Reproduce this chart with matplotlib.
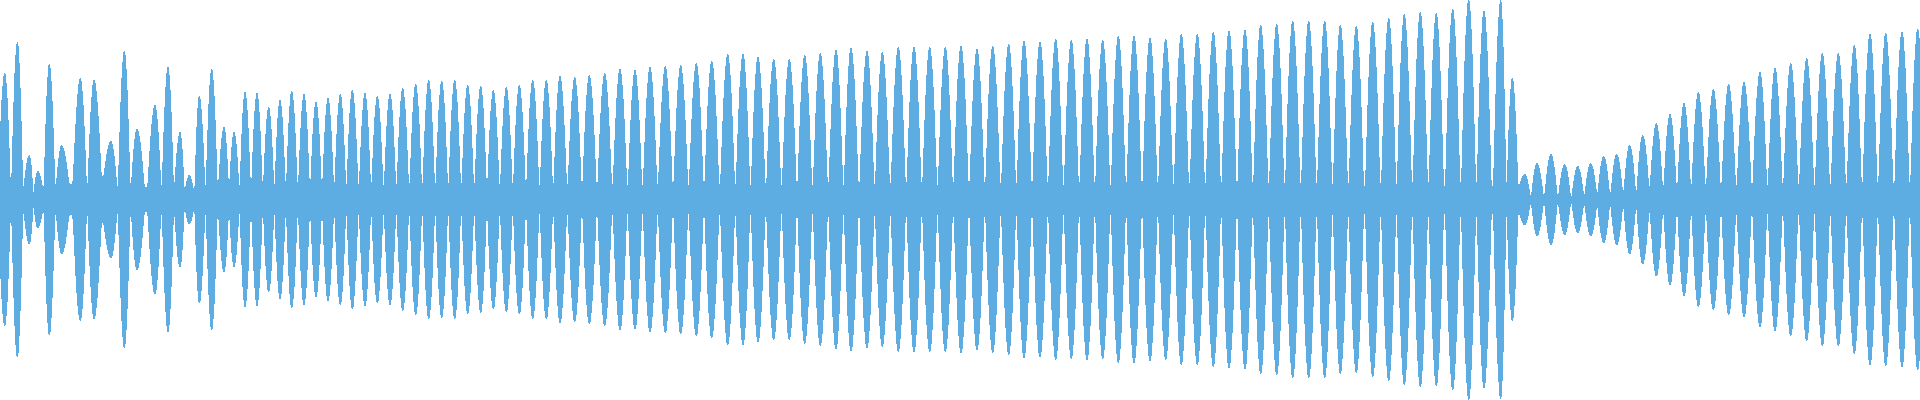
import numpy as np
import matplotlib
matplotlib.use("Agg")
import matplotlib.pyplot as plt

# lobe centres and peak heights of the envelope
peak_x = [4.7, 17.3, 29.3, 37.7, 49.3, 61.7, 80.3, 94, 111, 124.3, 137, 155, 168, 180, 189.3, 199.3,
          211.7, 224, 234, 245, 257, 268.7, 280, 291.7, 304, 316, 328, 340.3, 352.3, 365, 377.3, 390,
          402.7, 415.7, 428.7, 441.7, 454.7, 467.7,
          480.7, 493.3, 506.3, 519.3, 532.7, 546.3, 560, 574.7, 589.3, 604.7, 620, 635, 650, 665.3,
          680.7, 696.3, 711.7, 727.7, 743, 758, 773.7, 789.3, 804.7, 820.3, 836, 851, 867, 882.3,
          898.3, 914, 929.7, 945.3,
          961, 977, 992.7, 1008.7, 1024, 1040, 1055.7, 1071.3, 1087, 1102.7, 1118.3, 1134, 1150,
          1165.7, 1181.3, 1197.3, 1213.3, 1229, 1245, 1260.7, 1276.7, 1292.7, 1308.7, 1324.7, 1340.3,
          1356.3, 1372.7, 1388.7, 1404.3, 1420.3, 1436.3,
          1452.7, 1468.7, 1484, 1500.7, 1512.3, 1524.7, 1537, 1551, 1564.7, 1577.7, 1590.7, 1603.7,
          1616.7, 1629.7, 1642.7, 1656.3, 1670, 1684, 1698.3, 1713.3, 1728.7, 1744, 1760, 1775,
          1790.7, 1806.7, 1822.3, 1838.3, 1854.3, 1870, 1885.7, 1902, 1917.7]
peak_amp = [126, 157, 44, 28, 135, 54, 121, 119, 58, 148, 70, 94, 132, 67, 24, 103,
            130, 72, 67, 107, 106, 92, 99, 108, 105, 97, 101, 105, 109, 106, 103, 105,
            111, 115, 119, 118, 119, 114,
            113, 109, 112, 114, 119, 119, 123, 122, 124, 126, 130, 129, 132, 133,
            134, 136, 138, 145, 145, 142, 140, 140, 144, 146, 149, 151, 148, 147,
            152, 152, 152, 152,
            153, 150, 153, 155, 158, 157, 160, 159, 160, 159, 163, 163, 161,
            160, 165, 165, 167, 168, 169, 174, 175, 178, 178, 178, 174,
            173, 177, 181, 185, 187, 186,
            190, 200, 188, 199, 121, 25, 36, 45, 35, 33, 36, 43,
            45, 54, 64, 76, 85, 96, 107, 110, 115, 117, 127, 131,
            136, 141, 146, 146, 154, 165, 166, 167, 170]

# height of the band between two lobes, where it differs from the usual one
notch_x = [33, 43, 71, 102, 146, 185, 194, 1518, 1531, 1544, 1558, 1571, 1584, 1597, 1610, 1623, 1636]
notch_amp = [6, 9, 15, 23, 12, 8, 7, 12, 3, 3, 3, 2, 4, 6, 5, 7, 7]
usual_notch = 11

# shape of one lobe: share of half the lobe spacing, share of lobe height
lobe_off = [0, 0.06, 0.125, 0.25, 0.375, 0.5, 0.625, 0.75, 0.875, 1.0]
lobe_rise = [1.0, 0.99, 0.97, 0.887, 0.78, 0.63, 0.45, 0.25, 0.05, 0.0]
max_half_width = 8

notches = np.full(len(peak_x) - 1, usual_notch, dtype=float)
for nx, na in zip(notch_x, notch_amp):
    notches[np.searchsorted(peak_x, nx) - 1] = na

env_x = []
env_y = []
for i in range(len(peak_x)):
    # left side of the lobe
    gap_l = min((peak_x[i] - peak_x[i - 1]) / 2, max_half_width) if i > 0 else 7
    low_l = notches[i - 1] if i > 0 else usual_notch
    for off, rise in zip(lobe_off[::-1], lobe_rise[::-1]):
        env_x.append(peak_x[i] - off * gap_l)
        env_y.append(low_l + (peak_amp[i] - low_l) * rise)
    # right side of the lobe
    gap_r = min((peak_x[i + 1] - peak_x[i]) / 2, max_half_width) if i < len(peak_x) - 1 else 8
    low_r = notches[i] if i < len(peak_x) - 1 else usual_notch
    for off, rise in zip(lobe_off[1:], lobe_rise[1:]):
        env_x.append(peak_x[i] + off * gap_r)
        env_y.append(low_r + (peak_amp[i] - low_r) * rise)

env_x = np.array(env_x)
env_y = np.array(env_y)

fig = plt.figure(figsize=(19.2, 4), dpi=100)
ax = fig.add_axes([0, 0, 1, 1])
ax.fill_between(env_x, -env_y, env_y, color="#5DACE2", linewidth=0, antialiased=False)
ax.set_xlim(0, 1920)
ax.set_ylim(-200.3, 199.7)
ax.axis("off")

fig.savefig("out.png", dpi=100, facecolor="white")
